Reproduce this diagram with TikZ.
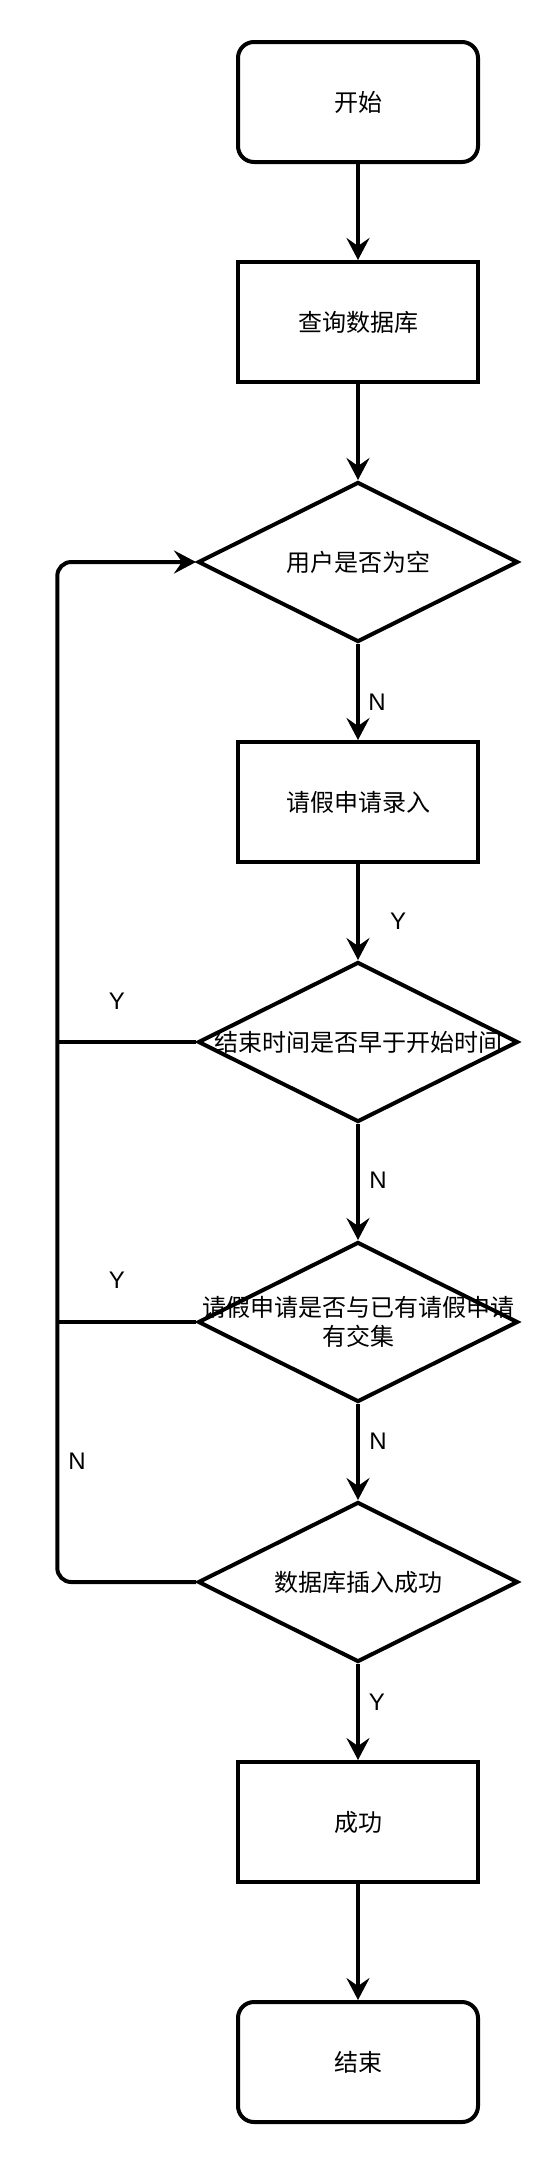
\documentclass[tikz,border=0pt]{standalone}
\usepackage{fontspec}
\setmainfont{Liberation Sans}
\newfontfamily\cjk{Noto Sans CJK SC}
\usetikzlibrary{shapes.geometric,arrows.meta}
\begin{document}
\begin{tikzpicture}[x=1pt,y=-1pt,line width=4pt,
  box/.style={draw, rectangle, minimum width=240pt, minimum height=120pt, inner sep=0pt, font=\cjk\fontsize{24}{28.8}\selectfont},
  term/.style={box, rounded corners=16pt},
  dec/.style={draw, diamond, minimum width=320pt, minimum height=160pt, inner sep=0pt},
  dtext/.style={inner sep=0pt, align=center, font=\cjk\fontsize{24}{28.8}\selectfont},
  lbl/.style={inner sep=0pt, font=\fontsize{24}{28}\selectfont},
  arr/.style={-{Stealth[length=22pt,width=23pt,inset=8pt]}},
  loopline/.style={rounded corners=14pt}]
\useasboundingbox (0,0) rectangle (558,2164);

\node[term] (start) at (358,102) {开始};
\node[box]  (query) at (358,322) {查询数据库};
\node[dec]  (d1) at (358,562) {};
\node[dtext] (t1) at (d1.center) {用户是否为空};
\node[box]  (input) at (358,802) {请假申请录入};
\node[dec]  (d2) at (358,1042) {};
\node[dtext] (t2) at (d2.center) {结束时间是否早于开始时间};
\node[dec]  (d3) at (358,1322) {};
\node[dtext] (t3) at (d3.center) {请假申请是否与已有请假申请\\有交集};
\node[dec]  (d4) at (358,1582) {};
\node[dtext] (t4) at (d4.center) {数据库插入成功};
\node[box]  (ok) at (358,1822) {成功};
\node[term] (end) at (358,2062) {结束};

\coordinate (lx) at (57.3,0);

\draw[arr] (start) -- (query);
\draw[arr] (query) -- (d1);
\draw[arr] (d1) -- (input);
\draw[arr] (input) -- (d2);
\draw[arr] (d2) -- (d3);
\draw[arr] (d3) -- (d4);
\draw[arr] (d4) -- (ok);
\draw[arr] (ok) -- (end);

\draw[arr, loopline] (d4.west) -- (d4.west -| lx) -- (d1.west -| lx) -- (d1.west);
\draw (d2.west) -- (d2.west -| lx);
\draw (d3.west) -- (d3.west -| lx);

\node[lbl] (lN1) at (377,702) {N};
\node[lbl] (lY1) at (398,921) {Y};
\node[lbl] (lY2) at (117,1001) {Y};
\node[lbl] (lN2) at (378,1180) {N};
\node[lbl] (lY3) at (117,1280) {Y};
\node[lbl] (lN3) at (378,1441) {N};
\node[lbl] (lN4) at (77,1461) {N};
\node[lbl] (lY4) at (377,1702) {Y};
\end{tikzpicture}
\end{document}
